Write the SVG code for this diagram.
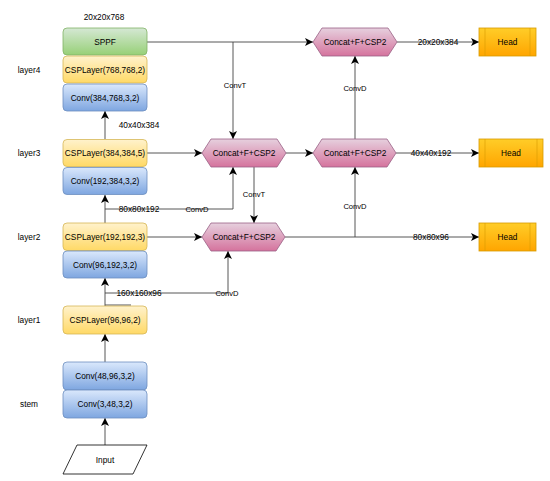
<svg xmlns="http://www.w3.org/2000/svg" width="550" height="481" viewBox="0 0 550 481">
<defs>
<linearGradient id="gGreen" x1="0" y1="0" x2="0" y2="1"><stop offset="0" stop-color="#d5e8d4"/><stop offset="1" stop-color="#97d077"/></linearGradient>
<linearGradient id="gYellow" x1="0" y1="0" x2="0" y2="1"><stop offset="0" stop-color="#fff2cc"/><stop offset="1" stop-color="#ffd966"/></linearGradient>
<linearGradient id="gBlue" x1="0" y1="0" x2="0" y2="1"><stop offset="0" stop-color="#dae8fc"/><stop offset="1" stop-color="#7ea6e0"/></linearGradient>
<linearGradient id="gPink" x1="0" y1="0" x2="0" y2="1"><stop offset="0" stop-color="#e6d0de"/><stop offset="1" stop-color="#d5739d"/></linearGradient>
<linearGradient id="gOrange" x1="0" y1="0" x2="0" y2="1"><stop offset="0" stop-color="#ffcd28"/><stop offset="1" stop-color="#ffa500"/></linearGradient>
<marker id="arr" markerUnits="userSpaceOnUse" markerWidth="8" markerHeight="8" refX="6" refY="3" orient="auto" viewBox="0 0 6 6">
<path d="M0,0 L6,3 L0,6 L1.5,3 z" fill="#000"/>
</marker>
</defs>
<style>
text{font-family:"Liberation Sans",Arial,sans-serif;fill:#000;text-anchor:middle;dominant-baseline:central}
.n{font-size:8.3px}
.e{font-size:7.6px}
.green{fill:url(#gGreen);stroke:#82b366;stroke-width:0.8}
.yellow{fill:url(#gYellow);stroke:#d6b656;stroke-width:0.8}
.blue{fill:url(#gBlue);stroke:#6c8ebf;stroke-width:0.8}
.pink{fill:url(#gPink);stroke:#996185;stroke-width:0.8}
.orange{fill:url(#gOrange);stroke:#d79b00;stroke-width:0.8}
.inner{stroke:#d79b00;stroke-width:0.6;fill:none}
.c{fill:none;stroke:#444;stroke-width:0.9}
.a{marker-end:url(#arr)}
</style>
<rect width="550" height="481" fill="#fff"/>

<g id="layer-labels">
<text class="n" x="29" y="70">layer4</text>
<text class="n" x="29" y="153">layer3</text>
<text class="n" x="29" y="237">layer2</text>
<text class="n" x="29" y="320">layer1</text>
<text class="n" x="29" y="404">stem</text>
<text class="n" x="104" y="17">20x20x768</text>
<text class="n" x="139" y="125">40x40x384</text>
</g>

<g id="connectors">
<path class="c a" d="M147,42 H313"/>
<path class="c a" d="M233,42 V139"/>
<path class="c a" d="M397,42 H479"/>
<path class="c a" d="M147,153 H202"/>
<path class="c a" d="M286,153 H313"/>
<path class="c a" d="M396,153 H479"/>
<path class="c a" d="M355,139 V56"/>
<path class="c a" d="M254,167 V223"/>
<path class="c a" d="M285,237 H479"/>
<path class="c a" d="M355,237 V167"/>
<path class="c a" d="M147,237 H202"/>
<path class="c a" d="M105,209 H233 V167"/>
<path class="c a" d="M105,293 H228 V251"/>
<path class="c a" d="M105,445 V418"/>
<path class="c a" d="M105,362 V334"/>
<path class="c a" d="M105,306 V278"/>
<path class="c a" d="M105,223 V195"/>
<path class="c a" d="M105,139 V111"/>
<path class="c" d="M105,305 H131"/>
<text class="e" x="235" y="85">ConvT</text>
<text class="n" x="438" y="42">20x20x384</text>
<text class="n" x="431" y="153">40x40x192</text>
<text class="e" x="355" y="88">ConvD</text>
<text class="e" x="254" y="194">ConvT</text>
<text class="n" x="431" y="237">80x80x96</text>
<text class="e" x="355" y="206">ConvD</text>
<text class="n" x="139" y="209">80x80x192</text>
<text class="e" x="197" y="209">ConvD</text>
<text class="n" x="139" y="293">160x160x96</text>
<text class="e" x="227" y="293">ConvD</text>
</g>

<g id="sppf"><rect class="green" x="63" y="28" width="84" height="27" rx="4"/><text class="n" x="105" y="41.5">SPPF</text></g>
<g id="csp768"><rect class="yellow" x="63" y="56" width="84" height="27" rx="4"/><text class="n" x="105" y="69.5">CSPLayer(768,768,2)</text></g>
<g id="conv384"><rect class="blue" x="63" y="84" width="84" height="27" rx="4"/><text class="n" x="105" y="97.5">Conv(384,768,3,2)</text></g>
<g id="csp384"><rect class="yellow" x="63" y="139.5" width="84" height="27" rx="4"/><text class="n" x="105" y="153">CSPLayer(384,384,5)</text></g>
<g id="conv192"><rect class="blue" x="63" y="167.5" width="84" height="27" rx="4"/><text class="n" x="105" y="181">Conv(192,384,3,2)</text></g>
<g id="csp192"><rect class="yellow" x="63" y="223" width="84" height="27.5" rx="4"/><text class="n" x="105" y="237">CSPLayer(192,192,3)</text></g>
<g id="conv96"><rect class="blue" x="63" y="251" width="84" height="27" rx="4"/><text class="n" x="105" y="264.5">Conv(96,192,3,2)</text></g>
<g id="csp96"><rect class="yellow" x="63" y="306" width="84" height="28" rx="4"/><text class="n" x="105" y="320">CSPLayer(96,96,2)</text></g>
<g id="conv48"><rect class="blue" x="63" y="362" width="84" height="28" rx="4"/><text class="n" x="105" y="376">Conv(48,96,3,2)</text></g>
<g id="conv3"><rect class="blue" x="63" y="390" width="84" height="28" rx="4"/><text class="n" x="105" y="404">Conv(3,48,3,2)</text></g>
<g id="input"><polygon points="77,445 147,445 133,474 63,474" fill="#fff" stroke="#000" stroke-width="0.8"/><text class="n" x="105" y="459.5">Input</text></g>

<g id="concat-top"><polygon class="pink" points="313,42 322,28 388,28 397,42 388,56 322,56"/><text class="n" x="355" y="42">Concat+F+CSP2</text></g>
<g id="concat-1"><polygon class="pink" points="202,153 211,139 277,139 286,153 277,167 211,167"/><text class="n" x="244" y="153">Concat+F+CSP2</text></g>
<g id="concat-2"><polygon class="pink" points="313,153 322,139 387,139 396,153 387,167 322,167"/><text class="n" x="355" y="153">Concat+F+CSP2</text></g>
<g id="concat-3"><polygon class="pink" points="202,237 211,223 276,223 285,237 276,251 211,251"/><text class="n" x="244" y="237">Concat+F+CSP2</text></g>

<g id="head-top"><rect class="orange" x="479" y="28" width="57" height="28"/><path class="inner" d="M485,28 V56 M530,28 V56"/><text class="n" x="507.5" y="42">Head</text></g>
<g id="head-mid"><rect class="orange" x="479" y="139" width="64" height="28"/><path class="inner" d="M485,139 V167 M537,139 V167"/><text class="n" x="511" y="153">Head</text></g>
<g id="head-bottom"><rect class="orange" x="479" y="223" width="57" height="28"/><path class="inner" d="M485,223 V251 M530,223 V251"/><text class="n" x="507.5" y="237">Head</text></g>
</svg>
